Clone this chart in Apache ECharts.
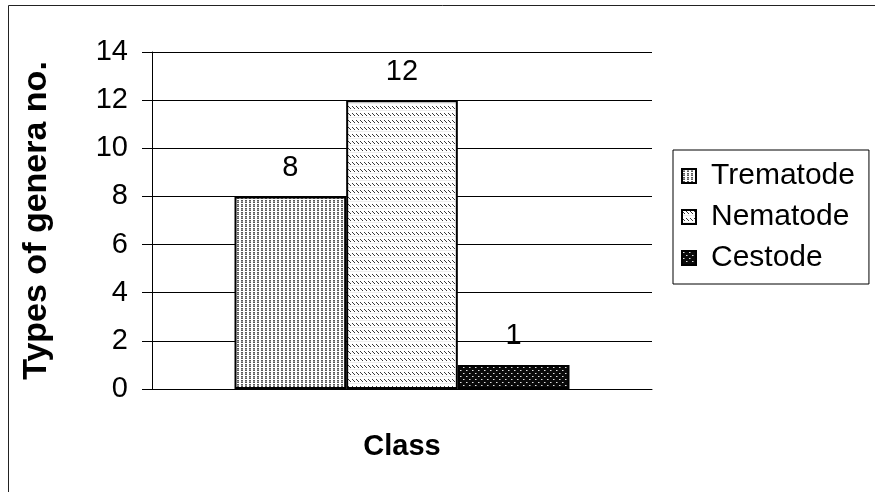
<!DOCTYPE html>
<html>
<head>
<meta charset="utf-8">
<script src="https://cdn.jsdelivr.net/npm/echarts@6/dist/echarts.min.js"></script>
<style>
  html, body { margin: 0; padding: 0; background: #fff; }
  #chart { width: 875px; height: 492px; }
</style>
</head>
<body>
<div id="chart"></div>
<script>
// Chart data
const categories = [''];
const seriesNames = ['Trematode', 'Nematode', 'Cestode'];
const seriesValues = [8, 12, 1];
const yMin = 0;
const yMax = 14;
const yInterval = 2;
const xAxisName = 'Class';
const yAxisName = 'Types of genera no.';

// Small repeating fill tiles for the hatched bars
function makeTile(w, h, bg, draw) {
  const c = document.createElement('canvas');
  c.width = w; c.height = h;
  const g = c.getContext('2d');
  g.fillStyle = bg;
  g.fillRect(0, 0, w, h);
  draw(g);
  return c;
}
const dottedTile = makeTile(4, 4, '#ffffff', g => {
  g.fillStyle = '#5a5a5a';
  g.fillRect(1, 0, 2, 1);
  g.fillRect(1, 2, 2, 1);
  g.fillStyle = '#9a9a9a';
  g.fillRect(1, 1, 2, 1);
});
const dashTile = makeTile(4, 7, '#ffffff', g => {
  g.fillStyle = '#3a3a3a';
  g.fillRect(0, 1, 1, 1);
  g.fillRect(1, 2, 1, 1);
  g.fillRect(2, 3, 1, 1);
  g.fillStyle = '#eeeeee';
  g.fillRect(0, 5, 4, 1);
});
const darkTile = makeTile(6, 6, '#0a0a0a', g => {
  g.fillStyle = '#e0e0e0';
  g.fillRect(1, 1, 1, 1);
  g.fillRect(4, 4, 1, 1);
  g.fillStyle = '#777';
  g.fillRect(2, 1, 1, 1);
  g.fillRect(5, 4, 1, 1);
});
const fills = [dottedTile, dashTile, darkTile];

const FONT = '"Liberation Sans", Arial, sans-serif';

const series = seriesNames.map((name, i) => ({
  name: name,
  type: 'bar',
  data: [seriesValues[i]],
  barGap: '0%',
  barCategoryGap: '33%',
  itemStyle: {
    color: { image: fills[i], repeat: 'repeat' },
    borderColor: '#000',
    borderWidth: 2
  },
  label: {
    show: true,
    position: 'top',
    distance: 14,
    color: '#000',
    fontFamily: FONT,
    fontSize: 29
  }
}));

const chart = echarts.init(document.getElementById('chart'), null, { renderer: 'canvas' });
chart.setOption({
  animation: false,
  backgroundColor: '#fff',
  textStyle: { fontFamily: FONT },
  grid: { left: 152, right: 223, top: 52, bottom: 103, containLabel: false },
  legend: {
    orient: 'vertical',
    left: 673,
    top: 150,
    padding: [11, 14, 11, 8],
    itemGap: 11,
    itemWidth: 14,
    itemHeight: 14,
    icon: 'rect',
    borderColor: '#000',
    borderWidth: 1,
    textStyle: { fontFamily: FONT, fontSize: 30, color: '#000', padding: [0, 0, 0, 10] },
    data: seriesNames
  },
  xAxis: {
    type: 'category',
    data: categories,
    name: xAxisName,
    nameLocation: 'middle',
    nameGap: 43,
    nameTextStyle: { fontFamily: FONT, fontSize: 29, fontWeight: 'bold', color: '#000' },
    axisLine: { lineStyle: { color: '#000', width: 1 } },
    axisTick: { show: false },
    axisLabel: { show: false }
  },
  yAxis: {
    type: 'value',
    min: yMin,
    max: yMax,
    interval: yInterval,
    name: yAxisName,
    nameLocation: 'middle',
    nameRotate: 90,
    nameGap: 98,
    nameTextStyle: { fontFamily: FONT, fontSize: 34, fontWeight: 'bold', color: '#000' },
    axisLine: { show: true, lineStyle: { color: '#000', width: 1 } },
    axisTick: { show: true, length: 10, lineStyle: { color: '#000' } },
    axisLabel: { margin: 24, fontFamily: FONT, fontSize: 29, color: '#000' },
    splitLine: { show: true, lineStyle: { color: '#000', width: 1 } }
  },
  graphic: [{
    type: 'rect',
    shape: { x: 8.5, y: 5.5, width: 900, height: 520 },
    style: { fill: null, stroke: '#222', lineWidth: 1 },
    silent: true
  }],
  series: series
});
</script>
</body>
</html>
